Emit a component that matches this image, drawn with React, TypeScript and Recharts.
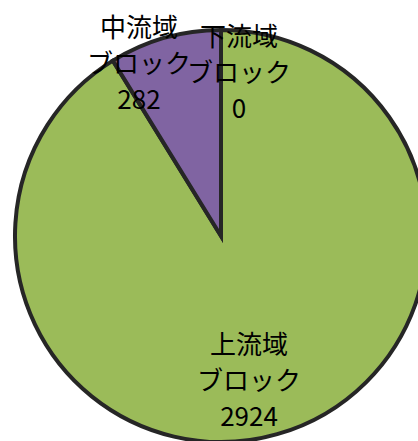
import React from 'react';
import { PieChart, Pie, Cell } from 'recharts';

const names = ['上流域', '中流域', '下流域'];
const values = [2924, 282, 0];
const colours = ['#9BBB59', '#8064A2', '#4BACC6'];

// label centres relative to pie centre (Excel "best fit" placement)
const labelOffsets = [
    { dx: 28, dy: 142 },
    { dx: -82, dy: -175 },
    { dx: 18, dy: -166 },
];

const data = names.map((name, i) => ({ name, value: values[i] }));

const renderLabel = (props: any) => {
    const { cx, cy, index } = props;
    const off = labelOffsets[index];
    const x = cx + off.dx;
    const y = cy + off.dy;
    const lines = [data[index].name, 'ブロック', String(data[index].value)];
    return (
        <text
            key={`lbl-${index}`}
            x={x}
            y={y}
            textAnchor="middle"
            fill="#000000"
            fontSize={26}
            fontFamily="'Noto Sans CJK JP', sans-serif"
        >
            {lines.map((line, j) => (
                <tspan key={j} x={x} y={y + (j - 1) * 36} dominantBaseline="central">
                    {line}
                </tspan>
            ))}
        </text>
    );
};

const App: React.FC = () => {
    return (
        <div style={{ width: 418, height: 441, overflow: 'hidden', background: '#fff' }}>
            <style>{`body { margin: 0; }`}</style>
            <PieChart width={418} height={441} margin={{ top: 0, right: 0, bottom: 0, left: 0 }}>
                <Pie
                    data={data}
                    dataKey="value"
                    nameKey="name"
                    cx={221}
                    cy={236}
                    outerRadius={206}
                    startAngle={90}
                    endAngle={-270}
                    stroke="#262626"
                    strokeWidth={4}
                    labelLine={false}
                    label={renderLabel}
                    isAnimationActive={false}
                >
                    {data.map((d, i) => (
                        <Cell key={d.name} fill={colours[i]} />
                    ))}
                </Pie>
            </PieChart>
        </div>
    );
};

export default App;
